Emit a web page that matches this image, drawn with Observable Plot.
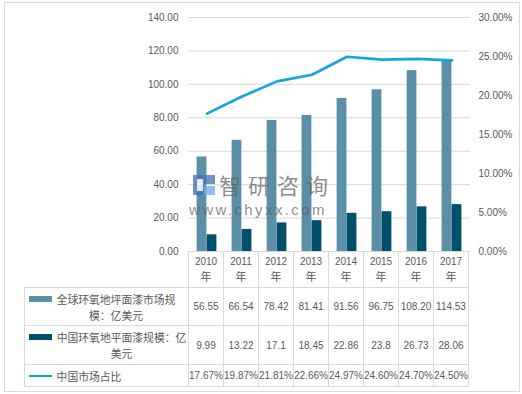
<!DOCTYPE html>
<html>
<head>
<meta charset="utf-8">
<script src="https://cdn.jsdelivr.net/npm/d3@7"></script>
<script src="https://cdn.jsdelivr.net/npm/@observablehq/plot@0.6"></script>
<style>
html,body{margin:0;padding:0;background:#fff;}
#wrap{position:relative;width:522px;height:394px;overflow:hidden;font-family:"Liberation Sans","Noto Sans CJK SC",sans-serif;color:#595959;}
#frame{position:absolute;left:4px;top:2px;border:1px solid #d9d9d9;box-sizing:border-box;width:516px;height:390px;}
#chart{position:absolute;left:0;top:0;}
#tbl{position:absolute;left:24px;top:251px;border-collapse:collapse;table-layout:fixed;}
#tbl td{border:1px solid #d9d9d9;padding:0;text-align:center;vertical-align:middle;font-size:10px;white-space:nowrap;overflow:visible;}
#tbl td.blank{border-top:hidden;border-left:hidden;}
#tbl td.yr{line-height:15px;}
#tbl td.yr .nian{font-family:"Noto Sans CJK SC";font-size:11px;}
.legin{display:flex;align-items:flex-start;padding-left:4px;}
.sw{flex:none;width:23px;margin-right:4px;}
.lt{max-width:132px;text-align:center;line-height:16px;font-size:10.8px;font-family:"Noto Sans CJK SC",sans-serif;white-space:normal;}
#wm{position:absolute;left:0;top:0;width:522px;height:394px;pointer-events:none;}
#wm .cn{position:absolute;left:219px;top:168px;font-family:"Noto Sans CJK SC";font-size:22px;line-height:normal;color:rgba(95,95,95,0.72);white-space:nowrap;letter-spacing:7px;}
#wm .url{position:absolute;left:189px;top:201px;font-family:"Liberation Sans";font-size:15px;line-height:normal;color:rgba(95,95,95,0.72);letter-spacing:2.4px;white-space:nowrap;}
#wm svg{position:absolute;left:193px;top:175px;}
</style>
</head>
<body>
<div id="wrap">
  <div id="frame"></div>
  <div id="chart"></div>
  <table id="tbl"></table>
  <div id="wm">
    <svg width="22" height="20" viewBox="0 0 22 20">
      <rect x="0" y="0" width="10" height="20" fill="rgba(70,105,175,0.75)"/>
      <rect x="4" y="4" width="6" height="12" fill="rgba(255,255,255,0.85)"/>
      <rect x="11" y="0" width="11" height="9" fill="rgba(70,105,175,0.75)"/>
      <rect x="11" y="11" width="11" height="9" fill="rgba(110,170,225,0.75)"/>
    </svg>
    <div class="cn">智研咨询</div>
    <div class="url">www.chyxx.com</div>
  </div>
</div>
<script>
const years = ["2010","2011","2012","2013","2014","2015","2016","2017"];
const yearSuffix = "年";
const globalSize = [56.55, 66.54, 78.42, 81.41, 91.56, 96.75, 108.20, 114.53];
const chinaSize = [9.99, 13.22, 17.1, 18.45, 22.86, 23.8, 26.73, 28.06];
const chinaShare = [17.67, 19.87, 21.81, 22.66, 24.97, 24.60, 24.70, 24.50];
const seriesNames = ["全球环氧地坪面漆市场规模：亿美元", "中国环氧地平面漆规模：亿美元", "中国市场占比"];
const leftTicks = [0, 20, 40, 60, 80, 100, 120, 140];
const rightTicks = [0, 5, 10, 15, 20, 25, 30];
const leftMax = 140, rightMax = 30;

const colors = ["#5b8fa7", "#00506c", "#12a6de"];
const ratio = leftMax / rightMax;

const rows = years.map((year, i) => ({year, global: globalSize[i], china: chinaSize[i], share: chinaShare[i]}));

const chart = Plot.plot({
  width: 522,
  height: 252,
  marginLeft: 188,
  marginRight: 52,
  marginTop: 17,
  marginBottom: 1,
  style: {fontFamily: "Liberation Sans", fontSize: "10px", color: "#595959", background: "transparent", overflow: "visible"},
  x: {type: "band", domain: years, padding: 0, axis: null},
  y: {domain: [0, leftMax], axis: null},
  marks: [
    Plot.gridY({ticks: leftTicks, stroke: "#d9d9d9", strokeOpacity: 1}),
    Plot.axisY({ticks: leftTicks, anchor: "left", tickSize: 0, tickPadding: 10, tickFormat: d => d.toFixed(2), fill: "#595959"}),
    Plot.axisY({ticks: rightTicks.map(v => v * ratio), anchor: "right", tickSize: 0, tickPadding: 8, tickFormat: d => (d / ratio).toFixed(2) + "%", fill: "#595959"}),
    Plot.barY(rows, {x: "year", y: "global", fill: colors[0], insetLeft: 7.6, insetRight: 17.6}),
    Plot.barY(rows, {x: "year", y: "china", fill: colors[1], insetLeft: 17.6, insetRight: 7.6}),
    Plot.line(rows, {x: "year", y: d => d.share * ratio, stroke: colors[2], strokeWidth: 2.6})
  ]
});
document.getElementById("chart").appendChild(chart);

const xs = chart.scale("x");
const step = xs.step || xs.bandwidth || 35.25;
const tbl = document.getElementById("tbl");
let html = '<colgroup><col style="width:164px">' + years.map(() => `<col style="width:${step}px">`).join("") + '</colgroup>';
html += '<tr style="height:36px"><td class="blank"></td>' + years.map(y => `<td class="yr">${y}<br><span class="nian">${yearSuffix}</span></td>`).join("") + '</tr>';
const fmt = [v => v.toFixed(2), v => String(v), v => v.toFixed(2) + "%"];
const vals = [globalSize, chinaSize, chinaShare];
const heights = [38, 39, 22];
seriesNames.forEach((name, k) => {
  const sw = k < 2
    ? `<span class="sw" style="height:6px;margin-top:5px;background:${colors[k]}"></span>`
    : `<span class="sw" style="height:2.6px;margin-top:7px;background:${colors[k]}"></span>`;
  html += `<tr style="height:${heights[k]}px"><td><div class="legin">${sw}<span class="lt">${name}</span></div></td>` +
    vals[k].map(v => `<td>${fmt[k](v)}</td>`).join("") + '</tr>';
});
tbl.innerHTML = html;

// shrink each wrapped legend label to its longest line so lines centre on it
document.querySelectorAll(".lt").forEach(el => {
  const r = document.createRange();
  r.selectNodeContents(el);
  const rects = Array.from(r.getClientRects());
  if (rects.length) {
    const w = Math.max(...rects.map(q => q.width));
    el.style.width = Math.ceil(w + 0.5) + "px";
  }
});
</script>
</body>
</html>
